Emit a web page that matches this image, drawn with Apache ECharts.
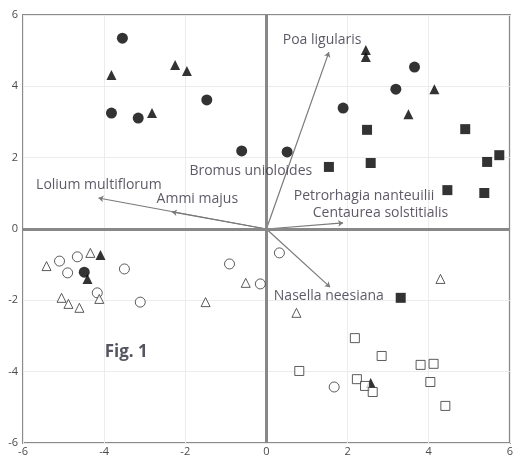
<!DOCTYPE html>
<html><head><meta charset="utf-8">
<script src="https://cdn.jsdelivr.net/npm/echarts@6/dist/echarts.min.js"></script>
<style>html,body{margin:0;padding:0;background:#fff}#c{width:516px;height:462px}</style>
</head><body><div id="c"></div>
<script>
// Sample scores (x, y)
const filledCircles = [[-3.55,5.35],[-3.82,3.25],[-3.16,3.11],[-1.47,3.62],[-0.61,2.19],[0.51,2.16],[3.65,4.54],[3.19,3.92],[1.89,3.39],[-4.49,-1.21]];
const filledTriangles = [[-3.82,4.32],[-2.25,4.60],[-1.96,4.43],[-2.82,3.25],[2.45,5.02],[2.45,4.82],[4.14,3.92],[3.50,3.22],[-4.09,-0.73],[-4.41,-1.40],[2.57,-4.32]];
const filledSquares = [[2.48,2.78],[4.90,2.80],[1.54,1.74],[2.57,1.85],[5.44,1.88],[5.74,2.07],[4.46,1.09],[5.37,1.01],[3.31,-1.93]];
const openCircles = [[-5.10,-0.90],[-4.66,-0.78],[-4.90,-1.23],[-3.50,-1.12],[-3.11,-2.05],[-0.91,-0.98],[-0.15,-1.54],[-4.17,-1.79],[0.32,-0.67],[1.67,-4.43]];
const openTriangles = [[-5.42,-1.04],[-4.34,-0.67],[-5.05,-1.93],[-4.88,-2.10],[-4.61,-2.21],[-4.12,-1.96],[-1.50,-2.05],[-0.51,-1.51],[0.74,-2.35],[4.29,-1.40]];
const openSquares = [[2.18,-3.06],[2.84,-3.56],[0.81,-3.98],[3.80,-3.81],[4.12,-3.78],[4.04,-4.29],[2.23,-4.21],[2.43,-4.40],[2.62,-4.57],[4.41,-4.96]];
// Species vectors (tips)
const vectorNames = ['Poa ligularis','Lolium multiflorum','Ammi majus','Centaurea solstitialis','Nasella neesiana'];
const vectorTips = [[1.54,4.96],[-4.14,0.87],[-2.33,0.48],[1.89,0.17],[1.57,-1.63]];
// Species labels
const labelNames = ['Poa ligularis','Bromus unioloides','Lolium multiflorum','Ammi majus','Petrorhagia nanteuilii','Centaurea solstitialis','Nasella neesiana'];
const labelAnchors = [[0.39,5.30],[-1.91,1.63],[-5.69,1.23],[-2.72,0.84],[0.66,0.93],[1.13,0.45],[0.17,-1.88]];
const figLabel = 'Fig. 1';
const figAnchor = [-4.0,-3.45];
const ticks = [-6,-4,-2,0,2,4,6];

const FONT = 'Open Sans';
const dark = '#000';
function sc(data, symbol, size, filled){
  return {type:'scatter', data, symbol, symbolSize:size, z:5,
    itemStyle: filled ? {color:dark} : {color:'#fff', borderColor:'#333', borderWidth:1}};
}
const chart = echarts.init(document.getElementById('c'));
const axisCommon = {min:-6, max:6, interval:2,
  axisLine:{show:false}, axisTick:{show:false},
  splitLine:{show:true, lineStyle:{color:'#ececec', width:1}},
  axisLabel:{color:'#4a4a4a', fontSize:11, fontFamily:FONT}};
chart.setOption({
  animation:false,
  grid:{left:23, right:3, top:15, bottom:19, show:true, borderColor:'#8a8a8a', borderWidth:2, backgroundColor:'transparent'},
  xAxis:Object.assign({type:'value'}, axisCommon, {axisLabel:Object.assign({}, axisCommon.axisLabel, {margin:3})}),
  yAxis:Object.assign({type:'value'}, axisCommon, {axisLabel:Object.assign({}, axisCommon.axisLabel, {margin:5})}),
  series:[
    {type:'line', data:[], markLine:{silent:true, symbol:'none', label:{show:false},
      lineStyle:{color:'#888', width:3, type:'solid'}, data:[{xAxis:0},{yAxis:0}]}},
    {type:'lines', coordinateSystem:'cartesian2d', z:3,
      symbol:['none','arrow'], symbolSize:5,
      lineStyle:{color:'#7a7a7a', width:1.2, opacity:1},
      data: vectorTips.map((t,i)=>({name:vectorNames[i], coords:[[0,0],t]}))},
    sc(filledCircles,'circle',11,true),
    sc(filledTriangles,'triangle',10,true),
    sc(filledSquares,'rect',10,true),
    sc(openCircles,'circle',10,false),
    sc(openTriangles,'triangle',9,false),
    sc(openSquares,'rect',9,false),
    {type:'scatter', symbolSize:1, z:6, itemStyle:{color:'transparent'},
      data: labelAnchors.map((p,i)=>({name:labelNames[i], value:p})),
      label:{show:true, position:'right', distance:0, formatter:'{b}', color:'#363040', fontSize:14, fontFamily:FONT}},
    {type:'scatter', symbolSize:1, z:6, itemStyle:{color:'transparent'},
      data:[{name:figLabel, value:figAnchor}],
      label:{show:true, position:'right', distance:0, formatter:'{b}', color:'#2a2a3a', fontSize:17, fontWeight:'bold', fontFamily:FONT}}
  ]
});
</script></body></html>
